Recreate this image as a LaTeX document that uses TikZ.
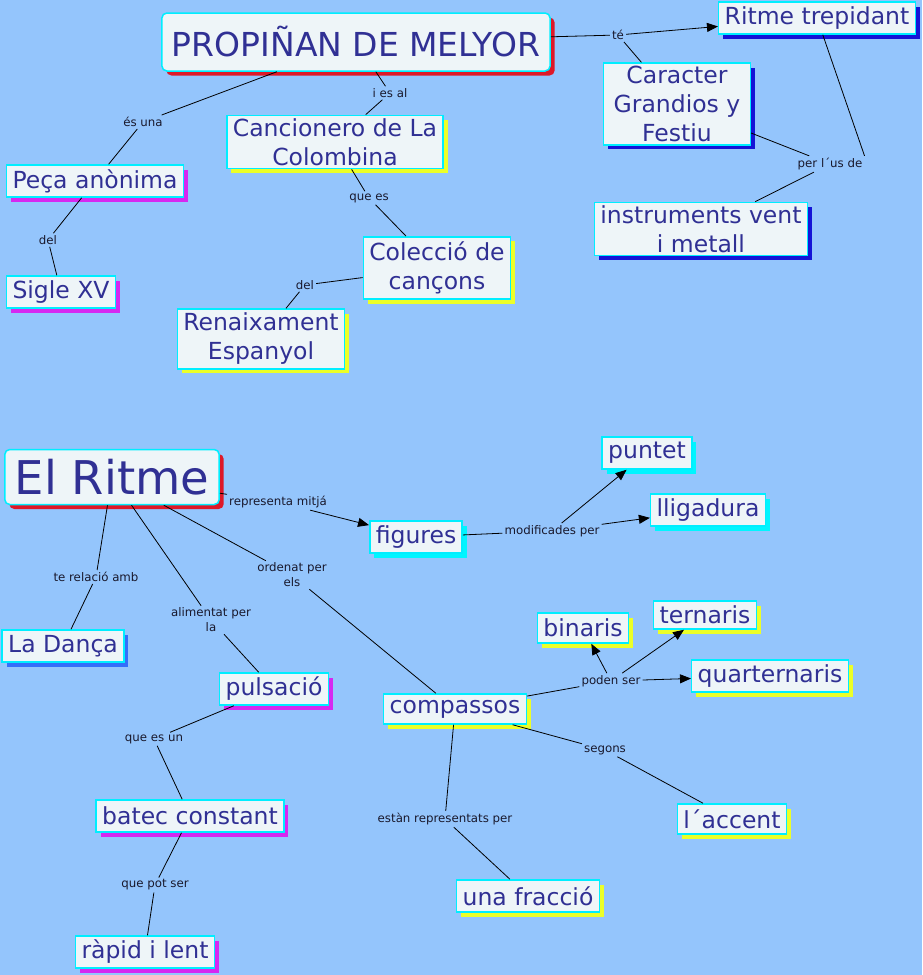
\documentclass[tikz,border=0pt]{standalone}
\usepackage{fontspec}
\setmainfont{DejaVu Sans}
\usetikzlibrary{shadows,arrows.meta}
\definecolor{bgblue}{RGB}{148,197,252}
\definecolor{boxfill}{RGB}{238,245,248}
\definecolor{boxedge}{RGB}{0,238,255}
\definecolor{txtblue}{RGB}{48,48,148}
\definecolor{lbltxt}{RGB}{25,25,45}
\definecolor{shred}{RGB}{222,24,40}
\definecolor{shmag}{RGB}{214,40,240}
\definecolor{shyel}{RGB}{236,255,40}
\definecolor{shblu}{RGB}{20,20,214}
\definecolor{shsky}{RGB}{52,110,250}
\definecolor{shcya}{RGB}{0,245,255}
\begin{document}
\begin{tikzpicture}[x=1pt,y=-1pt,>={Triangle[length=11pt,width=9pt]},
 concept/.style={draw=boxedge,line width=1.5pt,fill=boxfill,text=txtblue,
  font=\fontsize{23.5}{29}\selectfont,align=center,inner xsep=6pt,inner ysep=3pt,
  minimum height=32pt,drop shadow={fill=#1,opacity=1,shadow xshift=4.5pt,shadow yshift=-4.5pt}},
 topic/.style={concept=#1,rounded corners=5pt,inner xsep=10pt},
 linkword/.style={font=\fontsize{11.8}{15}\selectfont,text=lbltxt,align=center,inner sep=2pt},
 link/.style={line width=.8pt}]
\fill[bgblue] (0,0) rectangle (922,975);
\useasboundingbox (0,0) rectangle (922,975);
% first map
\node[topic=shred,font=\fontsize{33}{38}\selectfont,minimum height=58pt] (prop) at (356,42) {PROPIÑAN DE MELYOR};
\node[concept=shblu] (ritme) at (817,18) {Ritme trepidant};
\node[concept=shblu,inner xsep=10pt] (carac) at (677,104) {Caracter\\Grandios y\\Festiu};
\node[concept=shblu] (instr) at (701,229) {instruments vent\\i metall};
\node[concept=shmag] (peca) at (95,181) {Peça anònima};
\node[concept=shmag] (sigle) at (61,292) {Sigle XV};
\node[concept=shyel] (canc) at (335,142) {Cancionero de La\\Colombina};
\node[concept=shyel,inner ysep=5pt] (colec) at (437,268) {Colecció de\\cançons};
\node[concept=shyel,inner ysep=4pt] (renai) at (261,339) {Renaixament\\Espanyol};
\node[linkword] (esuna) at (143,122) {és una};
\node[linkword] (del1) at (48,240) {del};
\node[linkword] (iesal) at (390,93) {i es al};
\node[linkword] (quees) at (369,198) {que es};
\node[linkword] (del2) at (305,285) {del};
\node[linkword] (te) at (618,35) {té};
\node[linkword] (perus) at (830,164) {per l´us de};
% second map
\node[topic=shred,font=\fontsize{46.5}{50}\selectfont,minimum height=55pt] (elrit) at (112,477) {El Ritme};
\node[concept=shcya] (figs) at (416,537) {figures};
\node[concept=shcya] (puntet) at (647,453) {puntet};
\node[concept=shcya] (lliga) at (708,510) {lligadura};
\node[concept=shsky] (danca) at (63,646) {La Dança};
\node[concept=shmag] (puls) at (274,689) {pulsació};
\node[concept=shmag] (batec) at (190,816) {batec constant};
\node[concept=shmag] (rapid) at (145,952) {ràpid i lent};
\node[concept=shyel,minimum height=30pt] (comp) at (455,709) {compassos};
\node[concept=shyel,minimum height=30pt] (binar) at (583,628) {binaris};
\node[concept=shyel,minimum height=28pt] (terna) at (705,615) {ternaris};
\node[concept=shyel] (quart) at (770,676) {quarternaris};
\node[concept=shyel,minimum height=30pt] (accent) at (732,819) {l´accent};
\node[concept=shyel] (fracc) at (528,896) {una fracció};
\node[linkword] (repr) at (278,502) {representa mitjá};
\node[linkword] (terel) at (96,577) {te relació amb};
\node[linkword] (alim) at (211,620) {alimentat per\\la};
\node[linkword] (orden) at (292,575) {ordenat per\\els};
\node[linkword] (modif) at (552,531) {modificades per};
\node[linkword] (poden) at (611,681) {poden ser};
\node[linkword] (segons) at (605,750) {segons};
\node[linkword] (quesun) at (154,739) {que es un};
\node[linkword] (estan) at (445,819) {estàn representats per};
\node[linkword] (potser) at (155,885) {que pot ser};
% connectors
\foreach \a/\b in {prop/esuna,esuna/peca,peca/del1,del1/sigle,prop/iesal,iesal/canc,
 canc/quees,quees/colec,colec/del2,del2/renai,prop/te,te/carac,carac/perus,perus/instr,
 elrit/repr,elrit/terel,terel/danca,elrit/alim,alim/puls,elrit/orden,orden/comp,figs/modif,
 comp/poden,comp/segons,segons/accent,comp/estan,estan/fracc,puls/quesun,quesun/batec,
 batec/potser,potser/rapid}
 \draw[link] (\a) -- (\b);
\draw[link] (ritme) -- (perus.north east);
\foreach \a/\b in {te/ritme,repr/figs,modif/puntet,modif/lliga,poden/binar,poden/terna,poden/quart}
 \draw[link,->] (\a) -- (\b);
\end{tikzpicture}
\end{document}
